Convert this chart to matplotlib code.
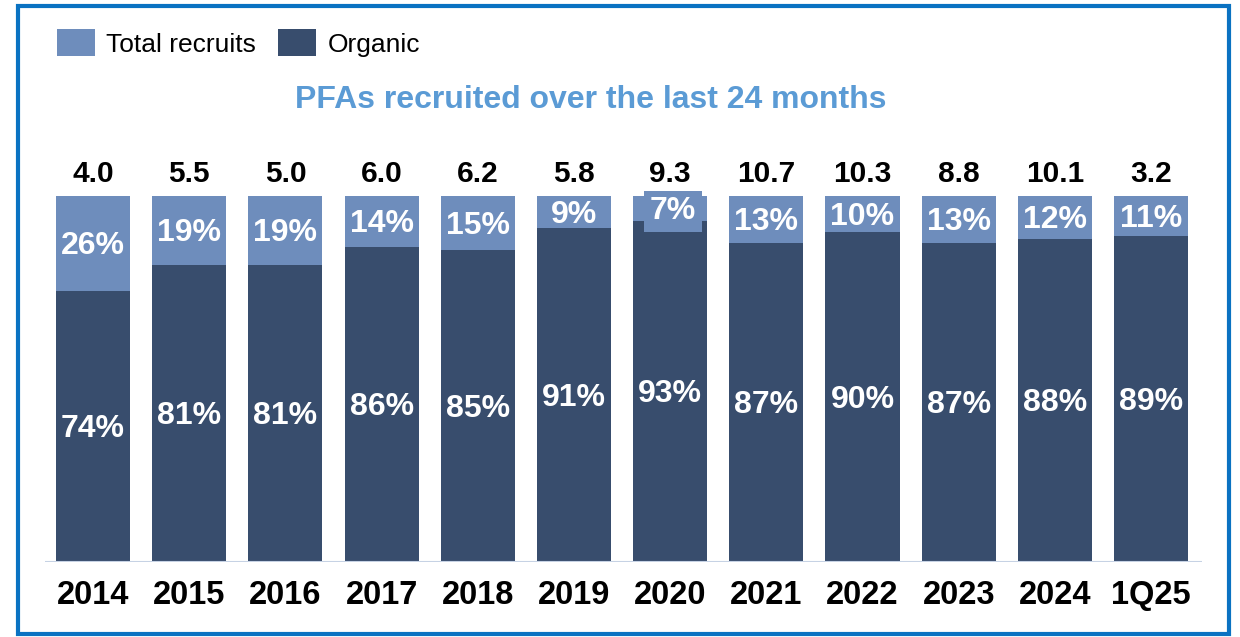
import matplotlib
matplotlib.use('Agg')
import numpy as np
import matplotlib.pyplot as plt
from matplotlib.patches import Rectangle, Patch

# data
periodos = ['2014', '2015', '2016', '2017', '2018', '2019', '2020', '2021', '2022', '2023', '2024', '1Q25']
totales = [4.0, 5.5, 5.0, 6.0, 6.2, 5.8, 9.3, 10.7, 10.3, 8.8, 10.1, 3.2]
reclutados = [26, 19, 19, 14, 15, 9, 7, 13, 10, 13, 12, 11]
organico = [74, 81, 81, 86, 85, 91, 93, 87, 90, 87, 88, 89]

c_claro = '#6E8DBC'
c_oscuro = '#384D6D'
c_titulo = '#5B9BD5'
c_marco = '#0A72C2'

plt.rcParams['font.family'] = ['Liberation Sans', 'DejaVu Sans']

W, H = 1240, 637
fig = plt.figure(figsize=(W/100, H/100), dpi=100)

# axes placed in pixel coordinates
x0, x1 = 45, 1202
y_top, y_bot = 195.5, 561.5
ax = fig.add_axes([x0/W, 1-y_bot/H, (x1-x0)/W, (y_bot-y_top)/H])

x = np.arange(len(periodos))
ax.bar(x, organico, width=0.77, color=c_oscuro, zorder=2)
ax.bar(x, reclutados, width=0.77, bottom=organico, color=c_claro, zorder=2)

ax.set_xlim(-0.5, 11.53)
ax.set_ylim(0, 100)
for s in ax.spines.values():
    s.set_visible(False)
ax.set_yticks([])
ax.set_xticks([])
ax.axhline(0, color='#C6D2E4', linewidth=1.5, zorder=3)

px = 72/100  # points per pixel

for i in range(len(periodos)):
    # lower label (organic)
    ax.annotate(f'{organico[i]}%', xy=(i, organico[i]/2), xytext=(0, -11*px),
                textcoords='offset points', ha='center', va='baseline',
                fontsize=23, fontweight='bold', color='white', zorder=4)
    # upper label (total recruits)
    caja = None
    dx = 0
    if periodos[i] == '2020':
        caja = dict(boxstyle='square,pad=0.18', facecolor=c_claro, edgecolor='none')
        dx = 3*px
    ax.annotate(f'{reclutados[i]}%', xy=(i, organico[i] + reclutados[i]/2), xytext=(dx, -11*px),
                textcoords='offset points', ha='center', va='baseline',
                fontsize=23, fontweight='bold', color='white', zorder=4, bbox=caja)
    # total on top
    ax.annotate(f'{totales[i]:.1f}', xy=(i, 100), xytext=(0, 13.5*px),
                textcoords='offset points', ha='center', va='baseline',
                fontsize=21.5, fontweight='bold', color='black')
    # period label
    ax.annotate(periodos[i], xy=(i, 0), xytext=(0, -(604-561.5)*px),
                textcoords='offset points', ha='center', va='baseline',
                fontsize=23.5, fontweight='bold', color='black')

# title
fig.text(591/W, 1-108/H, 'PFAs recruited over the last 24 months', ha='center', va='baseline',
         fontsize=23, fontweight='bold', color=c_titulo)

# legend
manos = [Patch(facecolor=c_claro, edgecolor='none', label='Total recruits'),
         Patch(facecolor=c_oscuro, edgecolor='none', label='Organic')]
fig.legend(handles=manos, loc='center left', bbox_to_anchor=(57/W, 1-43/H), ncol=2,
           frameon=False, fontsize=19, handlelength=1.44, handleheight=1.2,
           handletextpad=0.42, columnspacing=0.85, borderpad=0, borderaxespad=0)

# outer frame
fig.patches.append(Rectangle((18/W, 1-634/H), (1229-18)/W, (634-6)/H,
                             transform=fig.transFigure, fill=False,
                             edgecolor=c_marco, linewidth=3))

fig.savefig('out.png', dpi=100)
